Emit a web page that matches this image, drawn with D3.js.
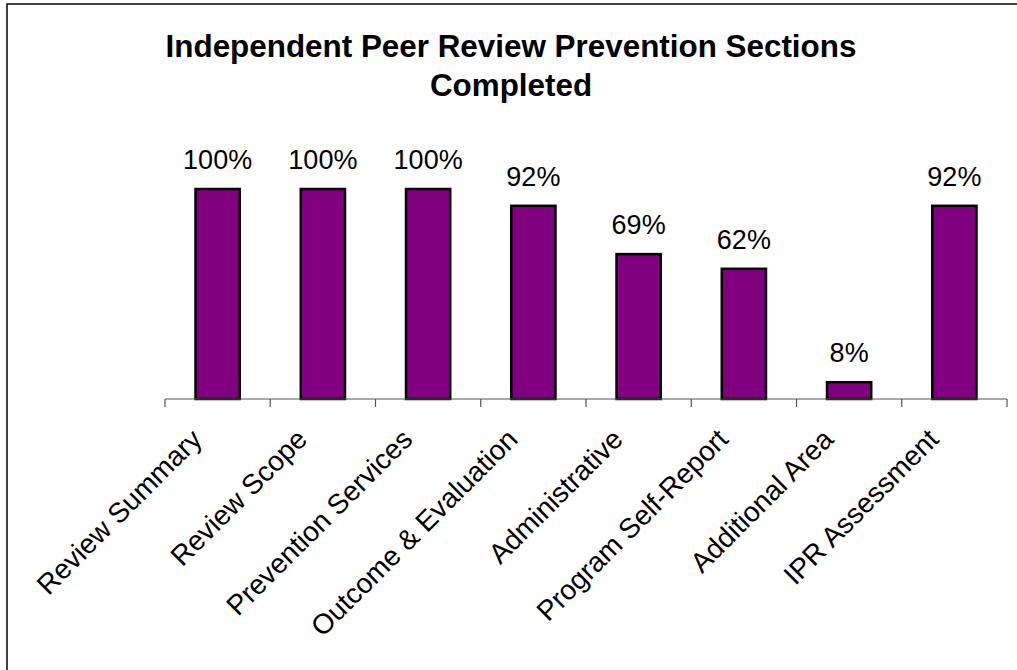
<!DOCTYPE html>
<html>
<head>
<meta charset="utf-8">
<script src="https://cdn.jsdelivr.net/npm/d3@7"></script>
<style>
  html, body { margin: 0; padding: 0; background: #fff; overflow: hidden; }
  svg { display: block; }
  text { font-family: "Liberation Sans", Arial, sans-serif; fill: #000; }
</style>
</head>
<body>
<svg id="chart" width="1017" height="670"></svg>
<script>
// Sections of the peer review and the share completed
const categories = [
  "Review Summary", "Review Scope", "Prevention Services", "Outcome & Evaluation",
  "Administrative", "Program Self-Report", "Additional Area", "IPR Assessment"
];
const completed = [1.00, 1.00, 1.00, 0.92, 0.69, 0.62, 0.08, 0.92];
const titleLines = ["Independent Peer Review Prevention Sections", "Completed"];

const svg = d3.select("#chart");

// chart frame (runs off the right and bottom edges)
svg.append("rect")
  .attr("x", 7).attr("y", 4)
  .attr("width", 1030).attr("height", 690)
  .attr("fill", "none").attr("stroke", "#000").attr("stroke-width", 1.5);

// title
const title = svg.append("text")
  .attr("text-anchor", "middle")
  .style("font-weight", "bold")
  .style("font-size", "31.4px");
titleLines.forEach((t, i) => {
  title.append("tspan").attr("x", 511).attr("y", 57 + i * 39).text(t);
});

const plotLeft = 165, plotRight = 1007, baseY = 399, topY = 189;

const x = d3.scaleBand()
  .domain(categories)
  .range([plotLeft, plotRight])
  .paddingInner(0.58)
  .paddingOuter(0.29);

const y = d3.scaleLinear().domain([0, 1]).range([baseY, topY]);

// bars
svg.append("g").selectAll("rect")
  .data(categories)
  .join("rect")
  .attr("x", d => x(d))
  .attr("y", (d, i) => y(completed[i]))
  .attr("width", x.bandwidth())
  .attr("height", (d, i) => baseY - y(completed[i]))
  .attr("fill", "#800080")
  .attr("stroke", "#000")
  .attr("stroke-width", 2.5);

// value labels
svg.append("g").selectAll("text")
  .data(categories)
  .join("text")
  .attr("x", d => x(d) + x.bandwidth() / 2)
  .attr("y", (d, i) => y(completed[i]) - 20)
  .attr("text-anchor", "middle")
  .style("font-size", "27px")
  .text((d, i) => d3.format(".0%")(completed[i]));

// category axis with ticks between categories
const step = (plotRight - plotLeft) / categories.length;
const boundaries = d3.range(categories.length + 1).map(i => plotLeft + i * step);
const axis = svg.append("g");
axis.append("line")
  .attr("x1", plotLeft).attr("x2", plotRight)
  .attr("y1", baseY).attr("y2", baseY)
  .attr("stroke", "#555").attr("stroke-width", 1.2);
axis.selectAll("line.tick")
  .data(boundaries)
  .join("line")
  .attr("class", "tick")
  .attr("x1", d => d).attr("x2", d => d)
  .attr("y1", baseY).attr("y2", baseY + 8)
  .attr("stroke", "#555").attr("stroke-width", 1.2);

// rotated category labels
axis.selectAll("text")
  .data(categories)
  .join("text")
  .attr("text-anchor", "end")
  .style("font-size", "28px")
  .attr("transform", d => `translate(${x(d) + x.bandwidth() / 2 - 14},${baseY + 42}) rotate(-45)`)
  .text(d => d);
</script>
</body>
</html>
